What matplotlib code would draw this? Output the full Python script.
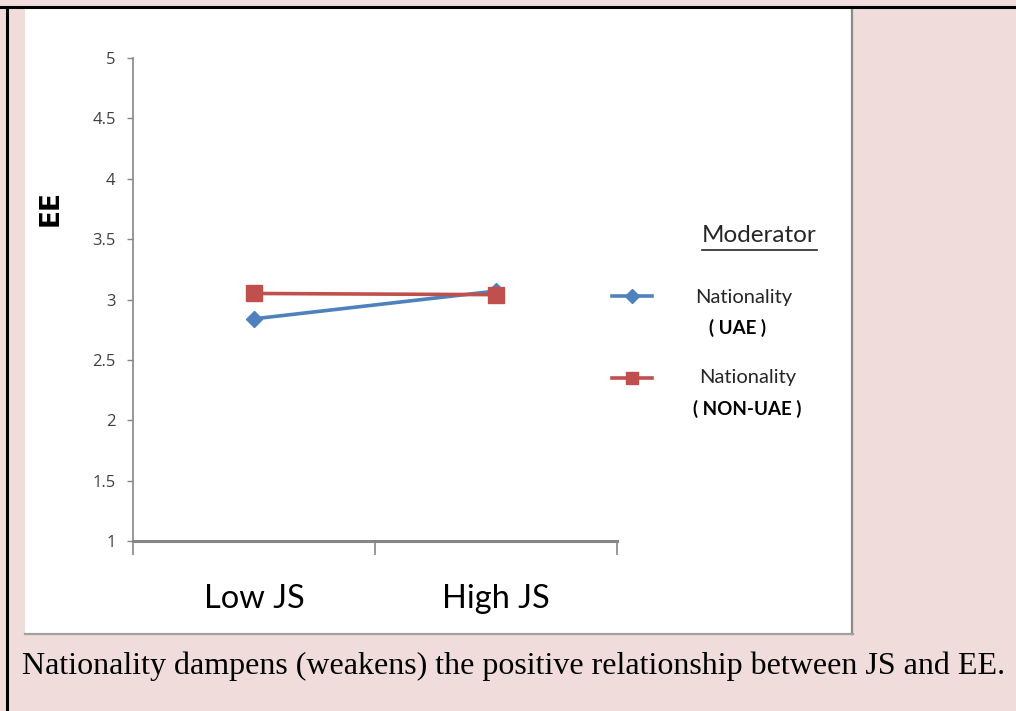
import matplotlib.pyplot as plt
from matplotlib.lines import Line2D
from matplotlib.patches import Rectangle

# Moderation plot: EE by JS level, split by nationality
categories = ['Low JS', 'High JS']
uae = [2.84, 3.07]
non_uae = [3.05, 3.04]
yticks = [1, 1.5, 2, 2.5, 3, 3.5, 4, 4.5, 5]

blue = '#4F81BD'
red = '#C0504D'
pink = '#EFDCDB'
axis_grey = '#868686'

W, H = 1016, 711
fig = plt.figure(figsize=(W / 100, H / 100), dpi=100, facecolor=pink)

# white chart panel with grey shadow edge on right/bottom
fig.patches.append(Rectangle((25 / W, 1 - 634 / H), 827 / W, 626 / H, transform=fig.transFigure,
                             facecolor='white', edgecolor='none', zorder=-5))
fig.add_artist(Line2D([852 / W, 852 / W], [1 - 8 / H, 1 - 634 / H], color='#8a8a8a', lw=1.6))
fig.add_artist(Line2D([25 / W, 853 / W], [1 - 634 / H, 1 - 634 / H], color='#a0a0a0', lw=1.6))
# black table borders
fig.add_artist(Line2D([0, 1], [1 - 7 / H, 1 - 7 / H], color='black', lw=2.2))
fig.add_artist(Line2D([7 / W, 7 / W], [0, 1 - 7 / H], color='black', lw=2.2))

ax = fig.add_axes([133 / W, 1 - 541 / H, (617 - 133) / W, (541 - 58) / H], zorder=2)
ax.set_facecolor('none')
x = range(len(categories))
ax.plot(x, uae, color=blue, lw=2.6, marker='D', markersize=8.5, label='Nationality ( UAE )')
ax.plot(x, non_uae, color=red, lw=2.6, marker='s', markersize=11, label='Nationality ( NON-UAE )')

ax.set_xlim(-0.5, 1.5)
ax.set_ylim(1, 5)
ax.set_yticks(yticks)
ax.set_yticklabels([f'{v:g}' for v in yticks], fontsize=12, color='#404040', family='Open Sans')
ax.set_xticks([-0.5, 0.5, 1.5], minor=False)
ax.set_xticklabels([])
ax.set_xticks(list(x), minor=True)
ax.set_xticklabels(categories, minor=True, fontsize=23.5, family='Lato')
ax.tick_params(axis='x', which='major', direction='out', length=10, width=1.2, color=axis_grey)
ax.tick_params(axis='x', which='minor', length=0, pad=31)
ax.tick_params(axis='y', direction='out', length=4, width=1, color=axis_grey, pad=8.5)
for s in ['top', 'right']:
    ax.spines[s].set_visible(False)
ax.spines['left'].set_color(axis_grey)
ax.spines['left'].set_linewidth(1.2)
ax.spines['bottom'].set_color(axis_grey)
ax.spines['bottom'].set_linewidth(2.2)

fig.text(51 / W, 1 - 208 / H, 'EE', rotation=90, ha='center', va='center',
         fontsize=19, fontweight='bold', family='DejaVu Sans')

# legend: handles only, labels written separately
handles = [Line2D([], [], color=blue, lw=2.6, marker='D', markersize=7),
           Line2D([], [], color=red, lw=2.6, marker='s', markersize=9)]
leg = fig.legend(handles, ['', ''], loc='upper left', bbox_to_anchor=(612 / W, 1 - 290 / H),
                 frameon=False, handlelength=2.9, labelspacing=4.85, borderpad=0, handletextpad=0,
                 borderaxespad=0)

fig.text(759 / W, 1 - 236 / H, 'Moderator', ha='center', va='center', fontsize=17.5,
         family='Lato', color='#262626')
fig.add_artist(Line2D([702 / W, 817 / W], [1 - 250 / H, 1 - 250 / H], color='#262626', lw=1.2))
fig.text(744 / W, 1 - 297 / H, 'Nationality', ha='center', va='center', fontsize=14.5,
         family='Lato', color='#262626')
fig.text(738 / W, 1 - 328 / H, '( UAE )', ha='center', va='center', fontsize=13.5,
         family='Lato', fontweight='bold', color='black')
fig.text(748 / W, 1 - 377 / H, 'Nationality', ha='center', va='center', fontsize=14.5,
         family='Lato', color='#262626')
fig.text(747 / W, 1 - 409 / H, '( NON-UAE )', ha='center', va='center', fontsize=13.5,
         family='Lato', fontweight='bold', color='black')

fig.text(22 / W, 1 - 666 / H, 'Nationality dampens (weakens) the positive relationship between JS and EE.',
         ha='left', va='center', fontsize=23, family='Liberation Serif', color='black')

fig.savefig('out.png', dpi=100, facecolor=pink)
